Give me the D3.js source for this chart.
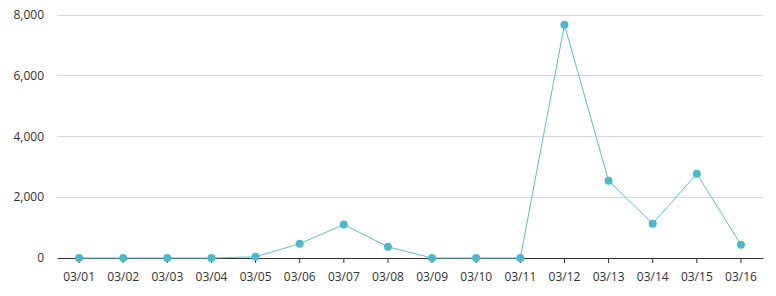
<!DOCTYPE html>
<html><head><meta charset="utf-8">
<script src="https://cdn.jsdelivr.net/npm/d3@7"></script>
<style>body{margin:0;background:#fff}svg{display:block}text{font-family:"Open Sans","Noto Sans",sans-serif;font-size:12px;fill:#333}</style>
</head><body><svg id="c" width="776" height="296"></svg>
<script>
const categories = ["03/01","03/02","03/03","03/04","03/05","03/06","03/07","03/08","03/09","03/10","03/11","03/12","03/13","03/14","03/15","03/16"];
const values = [0,0,0,0,40,470,1100,370,0,0,0,7680,2545,1130,2775,440];
const yTicks = [0,2000,4000,6000,8000];

const svg = d3.select("#c");
const x = d3.scaleBand().domain(categories).range([57,763]);
const y = d3.scaleLinear().domain([0,8000]).range([258,15]);
const fmt = d3.format(",");

svg.append("g").selectAll("line").data(yTicks.filter(d=>d>0)).join("line")
  .attr("x1",57).attr("x2",763).attr("y1",d=>y(d)).attr("y2",d=>y(d))
  .attr("stroke","#d9d9d9").attr("stroke-width",1).attr("shape-rendering","crispEdges");

svg.append("g").selectAll("text").data(yTicks).join("text")
  .attr("x",44).attr("y",d=>y(d)).attr("dy","0.35em").attr("text-anchor","end").text(d=>fmt(d));

const xa = svg.append("g").attr("transform","translate(0,258)")
  .call(d3.axisBottom(x).tickSize(5).tickPadding(9).tickSizeOuter(0));
xa.select(".domain").attr("stroke","#333");
xa.selectAll(".tick line").attr("stroke","#333");
xa.selectAll("text").attr("font-size",12).attr("fill","#333").style("font-family",'"Open Sans","Noto Sans",sans-serif');

const cx = d => x(d) + x.bandwidth()/2;
svg.append("path").datum(values)
  .attr("fill","none").attr("stroke","#5bbfcf").attr("stroke-width",1)
  .attr("d", d3.line().x((d,i)=>cx(categories[i])).y(d=>y(d)));
svg.append("g").selectAll("circle").data(values).join("circle")
  .attr("cx",(d,i)=>cx(categories[i])).attr("cy",d=>y(d)).attr("r",4)
  .attr("fill","#4cb9ca");
</script></body></html>
